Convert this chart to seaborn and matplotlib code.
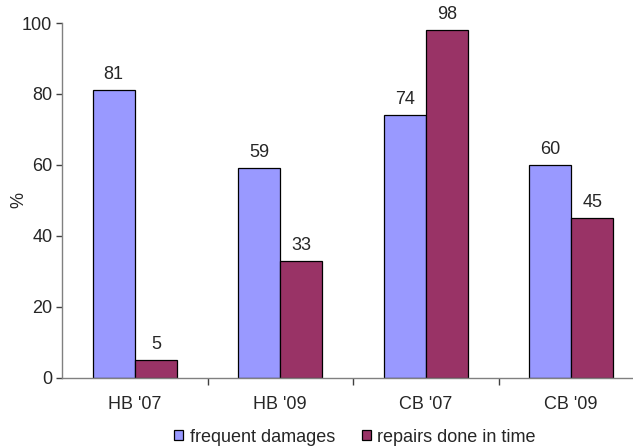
import matplotlib
matplotlib.use("Agg")
import matplotlib.pyplot as plt
import seaborn as sns
import pandas as pd
from matplotlib.patches import Patch

categories = ["HB '07", "HB '09", "CB '07", "CB '09"]
frequent_damages = [81, 59, 74, 60]
repairs_in_time = [5, 33, 98, 45]
series_names = ["frequent damages", "repairs done in time"]
series_colors = ["#9999FF", "#993366"]

df = pd.DataFrame({
    "category": categories * 2,
    "series": [series_names[0]] * 4 + [series_names[1]] * 4,
    "value": frequent_damages + repairs_in_time,
})

sns.set_theme(style="white")
plt.rcParams["font.family"] = ["Liberation Sans", "DejaVu Sans"]
FS = 13

fig = plt.figure(figsize=(6.33, 4.48), dpi=100)
ax = fig.add_axes([62 / 633, 1 - 377.5 / 448, 582 / 633, (377.5 - 23) / 448])

sns.barplot(data=df, x="category", y="value", hue="series", order=categories,
            hue_order=series_names, palette=series_colors, width=0.58, gap=0,
            edgecolor="black", linewidth=0.9, saturation=1, ax=ax, legend=False)

for cont in ax.containers:
    ax.bar_label(cont, padding=5, fontsize=FS)

ax.set_xlim(-0.5, 3.5)
ax.set_ylim(0, 100)
ax.set_yticks([0, 20, 40, 60, 80, 100])
ax.set_xlabel("")
ax.set_ylabel("%", fontsize=FS)
ax.yaxis.set_label_coords(-35 / 582, 0.5)

for side in ["top", "right"]:
    ax.spines[side].set_visible(False)
for side in ["left", "bottom"]:
    ax.spines[side].set_color("#808080")
    ax.spines[side].set_linewidth(1.0)

# category separators below the axis
ax.set_xticks([0.5, 1.5, 2.5], minor=True)
ax.tick_params(axis="x", which="minor", length=5, color="#404040", width=1, bottom=True)
ax.tick_params(axis="x", which="major", length=0, pad=13, labelsize=FS)
ax.tick_params(axis="y", length=4, color="#404040", width=1, left=True, pad=3, labelsize=FS)

handles = [Patch(facecolor=c, edgecolor="black", linewidth=0.9) for c in series_colors]
fig.legend(handles, series_names, loc="center", bbox_to_anchor=(355 / 633, 1 - 437 / 448),
           ncol=2, frameon=False, fontsize=FS, handlelength=0.5, handleheight=0.5,
           handletextpad=0.35, columnspacing=1.5)

fig.savefig("out.png", dpi=100)
